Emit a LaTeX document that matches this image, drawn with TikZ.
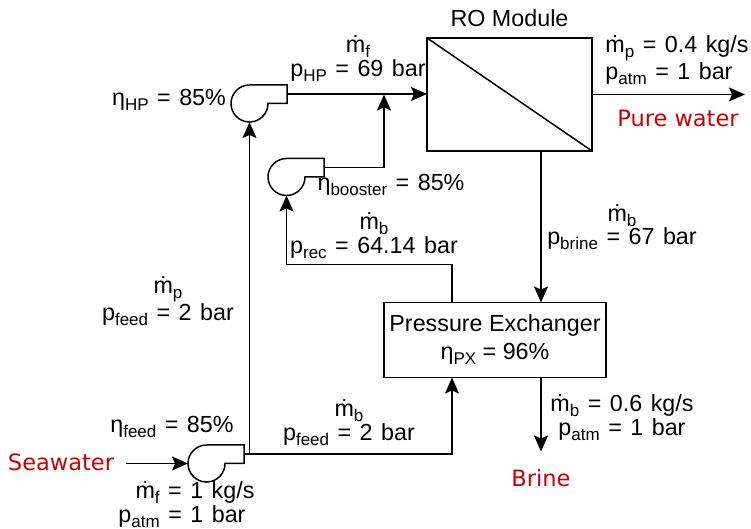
\documentclass[tikz,border=0pt]{standalone}
\usepackage{fontspec}
\setmainfont{Liberation Sans}
\newfontfamily\redfont{DejaVu Sans}
\usetikzlibrary{arrows.meta,positioning}
\definecolor{streamred}{HTML}{CC0000}
\newcommand{\sub}[1]{\raisebox{-5pt}{\fontsize{17}{17}\selectfont #1}}
\tikzset{widespace/.style={execute at begin node={\spaceskip=8.5pt\relax}},
vessel/.style={draw,line width=1.5pt,align=center,inner sep=0pt,outer sep=0pt},
pump/.style={circle,minimum size=37pt,inner sep=0pt,outer sep=0pt,
  append after command={\pgfextra{
    \draw[line width=1.5pt] (\tikzlastnode.north) -- ++(37.5pt,0pt) -- ++(0pt,-18.5pt) -- ++(-19pt,0pt)
      arc[start angle=0,end angle=-270,radius=18.5pt];
    \coordinate (\tikzlastnode-out) at ([shift={(37.5pt,9.5pt)}]\tikzlastnode.center);
  }}},
stream/.style={align=center,inner sep=0pt,widespace,font=\fontsize{23.3}{24}\selectfont},
product/.style={inner sep=0pt,text=streamred,font=\redfont\fontsize{22.5}{26}\selectfont}
}

\begin{document}
\begin{tikzpicture}[x=1pt,y=1pt,on grid,line width=1.5pt,
    >={Stealth[length=16pt,width=14pt,inset=3pt]}]
      \useasboundingbox (0,0) rectangle (751,529);
      \node[vessel,minimum width=165pt,minimum height=113pt] (ro) at (509.5,434.5) {};
      \node[vessel,minimum width=222pt,minimum height=75pt,font=\fontsize{23.3}{28}\selectfont]
                            (px)      [below=245.5pt of ro,xshift=-14.5pt] {Pressure Exchanger\\η\sub{PX} = 96\%};
      \node[pump]           (hp)      [below left=9pt and 260pt of ro]     {};
      \node[pump]           (booster) [below=73.5pt of hp,xshift=37pt]     {};
      \node[pump]           (feed)    [below=360pt of hp,xshift=-43pt]     {};

      \node[coordinate]     (inlet)   [left=80.5pt of feed]                {};
      \node[coordinate]     (outlet)  [right=235.5pt of ro]                {};
      \node[coordinate]     (drain)   [below=111.5pt of px,xshift=46pt]    {};
      \node[coordinate]     (merge)   [left=125.5pt of ro]                 {};

      % stream labels
      \node[inner sep=0pt,font=\fontsize{23.3}{24}\selectfont] (romodule) [above=76.5pt of ro] {RO Module};
      \node[stream]  (hpout)    [above left=35.5pt and 151.5pt of ro] {ṁ\sub{f}\\p\sub{HP} = 69 bar};
      \node[stream,align=left] (purelab) [above right=34.5pt and 167.5pt of ro] {ṁ\sub{p} = 0.4 kg/s\\p\sub{atm} = 1 bar};
      \node[product] (pure)     [below right=23.5pt and 168.5pt of ro] {Pure water};
      \node[stream]  (etahp)    [left=80.5pt of hp,yshift=3.5pt]      {η\sub{HP} = 85\%};
      \node[stream]  (etaboost) [below right=8pt and 104.5pt of booster] {η\sub{booster} = 85\%};
      \node[stream]  (reclab)   [below right=59pt and 87.5pt of booster] {ṁ\sub{b}\\p\sub{rec} = 64.14 bar};
      \node[stream,font=\fontsize{23.3}{20}\selectfont] (brinelab) [below right=132.5pt and 112.5pt of ro] {ṁ\sub{b}\\p\sub{brine} = 67 bar};
      \node[stream]  (hplab)    [below left=197.5pt and 81.5pt of hp] {ṁ\sub{p}\\p\sub{feed} = 2 bar};
      \node[stream]  (drainlab) [below right=78pt and 127pt of px]    {ṁ\sub{b} = 0.6 kg/s\\p\sub{atm} = 1 bar};
      \node[product] (brine)    [below right=138pt and 46pt of px]    {Brine};
      \node[stream]  (feedlab)  [above right=40.5pt and 142.5pt of feed] {ṁ\sub{b}\\p\sub{feed} = 2 bar};
      \node[stream]  (etafeed)  [above left=36.5pt and 34.5pt of feed] {η\sub{feed} = 85\%};
      \node[product] (sea)      [left=145.5pt of feed,yshift=1.5pt]   {Seawater};
      \node[stream]  (sealab)   [below left=41pt and 24.5pt of feed]  {\hspace*{26pt}ṁ\sub{f} = 1 kg/s\\p\sub{atm} = 1 bar};

      \draw (ro.north west) -- (ro.south east);

      \path[->,draw] (inlet) -- (feed.west);
      \path[->,draw] (feed-out) -| (hp.south);
      \path[->,draw] (feed-out) -| ([xshift=-43pt]px.south);
      \path[->,draw] (hp-out) -- (hp-out -| ro.west);
      \path[->,draw] (booster-out) -| (merge);
      \path[->,draw] ([xshift=-43pt]px.north) -- ++(0pt,38pt) -| (booster.south);
      \path[->,draw] (outlet -| ro.east) -- (outlet);
      \path[->,draw] ([xshift=46pt]px.north |- ro.south) -- ([xshift=46pt]px.north);
      \path[->,draw] ([xshift=46pt]px.south) -- (drain);
    \end{tikzpicture}
\end{document}
